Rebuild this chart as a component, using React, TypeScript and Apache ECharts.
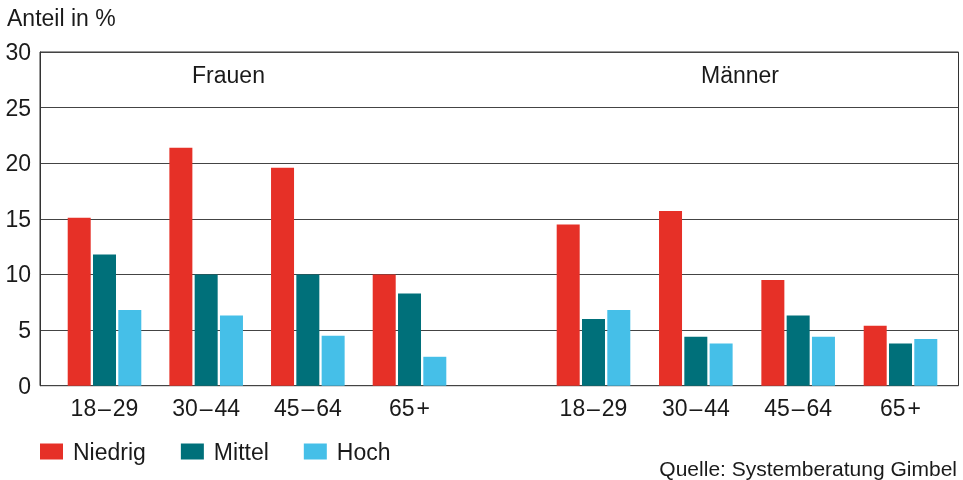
import React, { useEffect, useRef } from "react";
import * as echarts from "echarts";

const ageGroups = ["18\u200a\u2013\u200a29", "30\u200a\u2013\u200a44", "45\u200a\u2013\u200a64", "65\u200a+"];
const seriesNames = ["Niedrig", "Mittel", "Hoch"];
const frauenNiedrig = [15.1, 21.4, 19.6, 10.0];
const frauenMittel = [11.8, 10.0, 10.0, 8.3];
const frauenHoch = [6.8, 6.3, 4.5, 2.6];
const maennerNiedrig = [14.5, 15.7, 9.5, 5.4];
const maennerMittel = [6.0, 4.4, 6.3, 3.8];
const maennerHoch = [6.8, 3.8, 4.4, 4.2];
const yTicks = { min: 0, max: 30, interval: 5 };

const colors = ["#E63027", "#00707A", "#45BFE8"];
const FONT = '"Liberation Sans", Arial, sans-serif';
const TEXT = "#1a1a1a";

export default function App() {
  const ref = useRef<HTMLDivElement>(null);
  useEffect(() => {
    if (!ref.current) return;
    const chart = echarts.init(ref.current, null, { renderer: "svg" });
    const top = 52;
    const bottom = 480 - 385.7;
    const barCommon = (name: string, data: number[], idx: number, axis: number) => ({
      type: "bar",
      name,
      data,
      xAxisIndex: axis,
      yAxisIndex: axis,
      barWidth: 23,
      barGap: "10%",
      itemStyle: { color: colors[idx] },
      z: 3,
    });
    const catAxis = (gridIndex: number) => ({
      type: "category",
      gridIndex,
      data: ageGroups,
      axisLine: { show: false },
      axisTick: { show: false },
      axisLabel: { fontSize: 23, color: TEXT, fontFamily: FONT, margin: 11 },
    });
    const hiddenY = (gridIndex: number) => ({
      type: "value",
      gridIndex,
      min: yTicks.min,
      max: yTicks.max,
      interval: yTicks.interval,
      show: false,
    });
    chart.setOption({
      animation: false,
      textStyle: { fontFamily: FONT },
      grid: [
        { left: 40, right: 963 - 958.5, top, bottom, show: true, borderColor: "#333", borderWidth: 1, backgroundColor: "transparent" },
        { left: 53.67, width: 406.67, top, bottom },
        { left: 542.33, width: 409.33, top, bottom },
      ],
      xAxis: [
        { type: "value", gridIndex: 0, min: 0, max: 1, show: false },
        catAxis(1),
        catAxis(2),
      ],
      yAxis: [
        {
          type: "value",
          gridIndex: 0,
          min: yTicks.min,
          max: yTicks.max,
          interval: yTicks.interval,
          axisLine: { show: true, lineStyle: { color: "#333", width: 1 } },
          axisTick: { show: false },
          splitLine: { show: true, lineStyle: { color: "#444", width: 1 } },
          axisLabel: { fontSize: 23, color: TEXT, fontFamily: FONT, margin: 9 },
        },
        hiddenY(1),
        hiddenY(2),
      ],
      legend: {
        data: seriesNames,
        left: 40,
        top: 440,
        padding: 0,
        icon: "rect",
        itemWidth: 23,
        itemHeight: 16,
        itemGap: 35,
        textStyle: { fontSize: 23, color: TEXT, fontFamily: FONT, padding: [0, 0, 0, 5] },
        selectedMode: false,
      },
      graphic: [
        { type: "text", left: 7, top: 6, style: { text: "Anteil in %", fontSize: 23, fill: TEXT, fontFamily: FONT } },
        { type: "text", x: 228.5, y: 75, style: { text: "Frauen", fontSize: 23, fill: TEXT, fontFamily: FONT, textAlign: "center", textVerticalAlign: "middle" } },
        { type: "text", x: 740, y: 75, style: { text: "Männer", fontSize: 23, fill: TEXT, fontFamily: FONT, textAlign: "center", textVerticalAlign: "middle" } },
        { type: "text", x: 957, y: 468, style: { text: "Quelle: Systemberatung Gimbel", fontSize: 21, fill: TEXT, fontFamily: FONT, textAlign: "right", textVerticalAlign: "middle" } },
      ],
      series: [
        barCommon("Niedrig", frauenNiedrig, 0, 1),
        barCommon("Mittel", frauenMittel, 1, 1),
        barCommon("Hoch", frauenHoch, 2, 1),
        barCommon("Niedrig", maennerNiedrig, 0, 2),
        barCommon("Mittel", maennerMittel, 1, 2),
        barCommon("Hoch", maennerHoch, 2, 2),
      ],
    });
    return () => chart.dispose();
  }, []);
  return <div ref={ref} style={{ position: "fixed", left: 0, top: 0, width: 963, height: 480 }} />;
}
